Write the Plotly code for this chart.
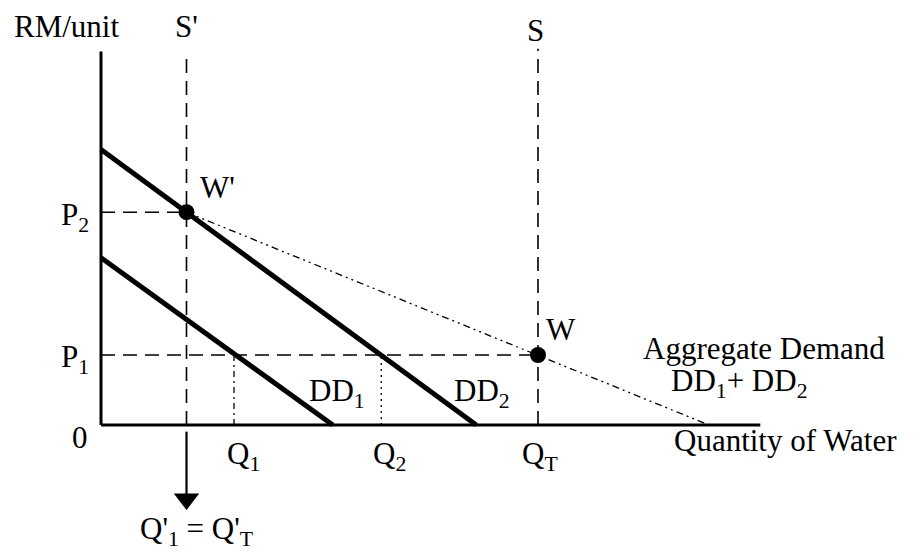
import plotly.graph_objects as go

# ---- data (quantity units, price units) ----
dd1_q = [0, 24.4]
dd1_p = [17.6, 0]
dd2_q = [0, 39.5]
dd2_p = [29.0, 0]
agg_q = [9.0, 46.0, 64.0]
agg_p = [22.4, 7.37, 0]
q_prime = 9.0      # S' / Q'1 = Q'T
q_total = 46.0     # S / QT
q1 = 14.0
q2 = 29.5
p1 = 7.37
p2 = 22.4
y_top = 39.3
x_end = 69.4
arrow_tip = -8.9

FONT = "Liberation Serif"
FS = 31
BLACK = "black"

fig = go.Figure()

def line(xs, ys, width, dash="solid"):
    fig.add_trace(go.Scatter(x=xs, y=ys, mode="lines",
                             line=dict(color=BLACK, width=width, dash=dash),
                             hoverinfo="skip", showlegend=False))

# axes
line([0, 0], [0, y_top], 3)
line([0, x_end], [0, 0], 3)

# supply lines
line([q_prime, q_prime], [0, y_top], 1.6, "14px,8px")
line([q_total, q_total], [0, y_top + 0.3], 1.6, "14px,8px")

# price guide lines
line([0, q_prime], [p2, p2], 1.6, "14px,8px")
line([0, q_total], [p1, p1], 1.6, "14px,8px")

# quantity guide lines
line([q1, q1], [0, p1], 1.3, "6px,4px,2px,4px")
line([q2, q2], [0, p1], 1.3, "2px,4px")

# aggregate demand (dash-dot-dot)
line(agg_q, agg_p, 1.3, "7px,4px,2px,4px,2px,4px")

# individual demands
line(dd1_q, dd1_p, 5)
line(dd2_q, dd2_p, 5)

# equilibrium points
fig.add_trace(go.Scatter(x=[q_prime, q_total], y=[p2, p1], mode="markers",
                         marker=dict(color=BLACK, size=16),
                         hoverinfo="skip", showlegend=False))

# arrow below S'
line([q_prime, q_prime], [-0.7, arrow_tip + 1.2], 2.2)
fig.add_trace(go.Scatter(x=[q_prime], y=[arrow_tip + 1.1], mode="markers",
                         marker=dict(color=BLACK, size=22, symbol="triangle-down"),
                         hoverinfo="skip", showlegend=False))

def label(x, y, text, xanchor="center", size=FS):
    fig.add_annotation(x=x, y=y, text=text, showarrow=False,
                       xanchor=xanchor, yanchor="middle",
                       font=dict(family=FONT, size=size, color=BLACK))

label(-3.58, 41.9, "RM/unit")
label(9.05, 41.9, "S'")
label(45.7, 41.5, "S")
label(12.3, 25.0, "W'")
label(-1.1, 21.9, "P<sub>2</sub>", xanchor="right")
label(-1.1, 7.0, "P<sub>1</sub>", xanchor="right")
label(-2.2, -1.3, "0")
label(48.4, 10.1, "W")
label(24.8, 3.4, "DD<sub>1</sub>")
label(40.1, 3.4, "DD<sub>2</sub>")
label(69.8, 8.1, "Aggregate Demand")
label(67.2, 4.4, "DD<sub>1</sub>+ DD<sub>2</sub>")
label(15.05, -3.3, "Q<sub>1</sub>")
label(30.4, -3.3, "Q<sub>2</sub>")
label(46.2, -3.3, "Q<sub>T</sub>")
label(60.1, -1.6, "Quantity of Water", xanchor="left")
label(10.0, -11.2, "Q'<sub>1</sub> = Q'<sub>T</sub>")

# page has an 8px body margin: figure is 906x543 placed at (8, 8)
fig.update_layout(
    width=906, height=543,
    margin=dict(l=0, r=0, t=0, b=0),
    paper_bgcolor="white", plot_bgcolor="white",
    xaxis=dict(visible=False, range=[-9.79, 85.58], fixedrange=True),
    yaxis=dict(visible=False, range=[-13.26, 43.89], fixedrange=True),
    showlegend=False,
)

fig.write_html("out.html")
